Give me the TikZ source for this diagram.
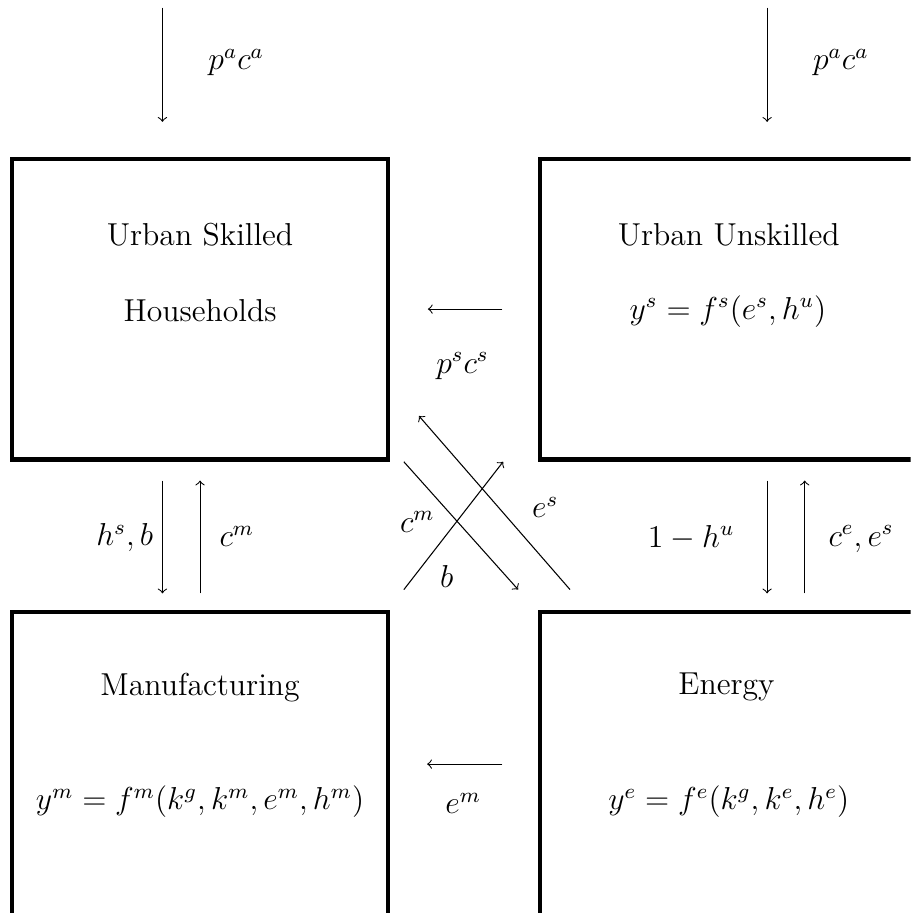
\documentclass[tikz,border=0pt]{standalone}
\usepackage{tikz}

\tikzset{
  sector/.style={line width=1.6pt},
  flow/.style={->},
  lbl/.style={font=\large}
}

\begin{document}
\begin{tikzpicture}

\useasboundingbox (-0.16,2.11) rectangle (11.95,-10.03);
\clip (-0.16,2.11) rectangle (11.95,-10.03);

\draw[sector] (0,0) rectangle (5,-4);
\draw[sector] (7.02,0) rectangle (12.3,-4);
\draw[sector] (0,-6.03) rectangle (5,-10.3);
\draw[sector] (7.02,-6.03) rectangle (12.3,-10.3);

\node[lbl] (skilled) at (2.5,-1.01) {Urban Skilled};
\node[lbl] (households) at (2.5,-2.02) {Households};
\node[lbl] (unskilled) at (9.53,-1.01) {Urban Unskilled};
\node[lbl] (prodS) at (9.52,-2.03) {$y^s = f^s(e^s, h^u)$};
\node[lbl] (manuf) at (2.5,-7.03) {Manufacturing};
\node[lbl] (prodM) at (2.5,-8.55) {$y^m = f^m(k^g, k^m, e^m, h^m)$};
\node[lbl] (energy) at (9.5,-7.03) {Energy};
\node[lbl] (prodE) at (9.53,-8.55) {$y^e = f^e(k^g, k^e, h^e)$};

\coordinate (agriS) at (2,2.01);     \coordinate (agriSend) at (2,0.49);
\coordinate (agriU) at (10.04,2.01); \coordinate (agriUend) at (10.04,0.49);
\coordinate (servS) at (6.52,-2);    \coordinate (servSend) at (5.53,-2);
\coordinate (enM) at (6.52,-8.05);   \coordinate (enMend) at (5.52,-8.05);
\coordinate (labS) at (2,-4.28);     \coordinate (labSend) at (2,-5.78);
\coordinate (manS) at (2.5,-5.78);   \coordinate (manSend) at (2.5,-4.28);
\coordinate (labU) at (10.04,-4.28); \coordinate (labUend) at (10.04,-5.78);
\coordinate (enU) at (10.54,-5.78);  \coordinate (enUend) at (10.54,-4.28);
\coordinate (manU) at (5.21,-4.03);  \coordinate (manUend) at (6.73,-5.73);
\coordinate (bondS) at (5.21,-5.73); \coordinate (bondSend) at (6.53,-4.03);
\coordinate (enS) at (7.42,-5.73);   \coordinate (enSend) at (5.41,-3.42);

\draw[flow] (agriS) -- (agriSend);
\draw[flow] (agriU) -- (agriUend);
\draw[flow] (servS) -- (servSend);
\draw[flow] (enM) -- (enMend);
\draw[flow] (labS) -- (labSend);
\draw[flow] (manS) -- (manSend);
\draw[flow] (labU) -- (labUend);
\draw[flow] (enU) -- (enUend);
\draw[flow] (manU) -- (manUend);
\draw[flow] (bondS) -- (bondSend);
\draw[flow] (enS) -- (enSend);

\node[lbl] (paS) at (2.98,1.28) {$p^a c^a$};
\node[lbl] (paU) at (11.02,1.28) {$p^a c^a$};
\node[lbl] (psU) at (5.99,-2.76) {$p^s c^s$};
\node[lbl] (emE) at (6,-8.57) {$e^m$};
\node[lbl] (hsb) at (1.5,-5.04) {$h^s, b$};
\node[lbl] (cmM) at (2.99,-5.02) {$c^m$};
\node[lbl] (huU) at (9.03,-5.04) {$1 - h^u$};
\node[lbl] (ceE) at (11.29,-5.06) {$c^e, e^s$};
\node[lbl] (cmX) at (5.39,-4.83) {$c^m$};
\node[lbl] (bX) at (5.78,-5.56) {$b$};
\node[lbl] (esX) at (7.09,-4.64) {$e^s$};

\end{tikzpicture}
\end{document}
